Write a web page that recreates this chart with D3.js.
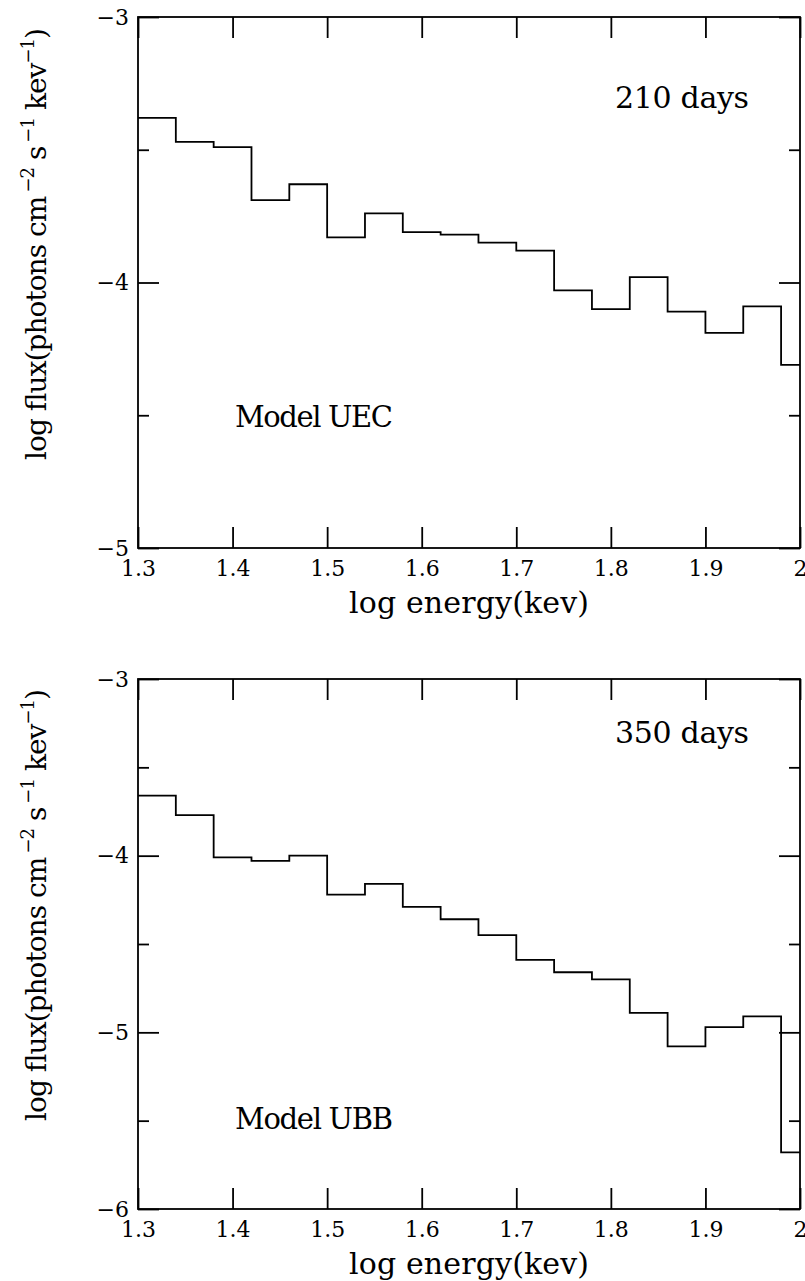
<!DOCTYPE html>
<html>
<head>
<meta charset="utf-8">
<script src="https://cdn.jsdelivr.net/npm/d3@7"></script>
<style>
  body { margin: 0; background: #fff; }
  svg text { font-family: "DejaVu Serif", serif; fill: #000; }
</style>
</head>
<body>
<div id="chart"></div>
<script>
// Histogram spectra, log flux vs log energy, two epochs

// bin edges (log energy, kev)
const binEdges = [1.30, 1.34, 1.38, 1.42, 1.46, 1.50, 1.54, 1.58, 1.62, 1.66,
                  1.70, 1.74, 1.78, 1.82, 1.86, 1.90, 1.94, 1.98, 2.00]

// log flux per bin
const flux210 = [-3.38, -3.47, -3.49, -3.69, -3.63, -3.83, -3.74, -3.81, -3.82,
                 -3.85, -3.88, -4.03, -4.10, -3.98, -4.11, -4.19, -4.09, -4.31]
const flux350 = [-3.66, -3.77, -4.01, -4.03, -4.00, -4.22, -4.16, -4.29, -4.36,
                 -4.45, -4.59, -4.66, -4.70, -4.89, -5.08, -4.97, -4.91, -5.68]

const xTicks = [1.3, 1.4, 1.5, 1.6, 1.7, 1.8, 1.9, 2.0]
const xTickLabels = ['1.3', '1.4', '1.5', '1.6', '1.7', '1.8', '1.9', '2']

const yMajor210 = [-3, -4, -5]
const yMinor210 = [-3.5, -4.5]
const yMajor350 = [-3, -4, -5, -6]
const yMinor350 = [-3.5, -4.5, -5.5]

const xTitle = 'log energy(kev)'

const W = 805, H = 1281
const left = 138, right = 800
const lw = 1.8

const svg = d3.select('#chart').append('svg')
    .attr('width', W)
    .attr('height', H)

const x = d3.scaleLinear().domain([1.3, 2.0]).range([left, right])

const panels = [
    { top: 17, bottom: 548, domain: [-5, -3], flux: flux210,
      major: yMajor210, minor: yMinor210, epoch: '210 days', model: 'Model UEC',
      epochY: 108, modelY: 427 },
    { top: 679, bottom: 1209, domain: [-6, -3], flux: flux350,
      major: yMajor350, minor: yMinor350, epoch: '350 days', model: 'Model UBB',
      epochY: 743, modelY: 1129 }
]

const fmtY = d => '\u2212' + Math.abs(d)

panels.forEach(p => {
    const y = d3.scaleLinear().domain(p.domain).range([p.bottom, p.top])
    const g = svg.append('g')

    // frame
    g.append('rect')
        .attr('x', left).attr('y', p.top)
        .attr('width', right - left).attr('height', p.bottom - p.top)
        .attr('fill', 'none').attr('stroke', '#000').attr('stroke-width', lw)

    // bottom axis with labels, ticks pointing in
    const bx = g.append('g')
        .attr('transform', `translate(0,${p.bottom})`)
        .call(d3.axisBottom(x).tickValues(xTicks).tickSize(-21).tickSizeOuter(0)
            .tickPadding(12).tickFormat((d, i) => xTickLabels[i]))
    bx.selectAll('text').attr('font-size', 22).attr('dy', '0.71em')

    // top axis ticks only
    g.append('g')
        .attr('transform', `translate(0,${p.top})`)
        .call(d3.axisTop(x).tickValues(xTicks).tickSize(-21).tickSizeOuter(0).tickFormat(''))

    // left / right major + minor ticks
    const ly = g.append('g')
        .attr('transform', `translate(${left},0)`)
        .call(d3.axisLeft(y).tickValues(p.major).tickSize(-21).tickSizeOuter(0)
            .tickPadding(9).tickFormat(fmtY))
    ly.selectAll('text').attr('font-size', 22)
    g.append('g')
        .attr('transform', `translate(${left},0)`)
        .call(d3.axisLeft(y).tickValues(p.minor).tickSize(-11).tickSizeOuter(0).tickFormat(''))
    g.append('g')
        .attr('transform', `translate(${right},0)`)
        .call(d3.axisRight(y).tickValues(p.major).tickSize(-21).tickSizeOuter(0).tickFormat(''))
    g.append('g')
        .attr('transform', `translate(${right},0)`)
        .call(d3.axisRight(y).tickValues(p.minor).tickSize(-11).tickSizeOuter(0).tickFormat(''))

    g.selectAll('.domain').remove()
    g.selectAll('.tick line').attr('stroke', '#000').attr('stroke-width', lw)

    // histogram
    const pts = binEdges.map((e, i) => [e, p.flux[Math.min(i, p.flux.length - 1)]])
    g.append('path')
        .datum(pts)
        .attr('fill', 'none')
        .attr('stroke', '#000')
        .attr('stroke-width', lw)
        .attr('d', d3.line().x(d => x(d[0])).y(d => y(d[1])).curve(d3.curveStepAfter))

    // annotations
    g.append('text')
        .attr('x', 615).attr('y', p.epochY)
        .attr('font-size', 30)
        .attr('textLength', 134).attr('lengthAdjust', 'spacing')
        .text(p.epoch)
    g.append('text')
        .attr('x', 235).attr('y', p.modelY)
        .attr('font-size', 29)
        .attr('textLength', 158).attr('lengthAdjust', 'spacing')
        .text(p.model)

    // x title
    g.append('text')
        .attr('x', (left + right) / 2).attr('y', p.bottom + 65)
        .attr('text-anchor', 'middle')
        .attr('font-size', 30)
        .attr('textLength', 240).attr('lengthAdjust', 'spacing')
        .text(xTitle)

    // y title, rotated
    const yt = g.append('text')
        .attr('transform', `translate(46,${p.bottom - 304}) rotate(-90)`)
        .attr('text-anchor', 'middle')
        .attr('font-size', 28)
        .attr('textLength', 432).attr('lengthAdjust', 'spacing')
    yt.append('tspan').text('log flux(photons cm')
    yt.append('tspan').attr('dx', 4).attr('dy', -12).attr('font-size', 18).text('\u22122')
    yt.append('tspan').attr('dy', 12).text('  s')
    yt.append('tspan').attr('dx', 4).attr('dy', -12).attr('font-size', 18).text('\u22121')
    yt.append('tspan').attr('dy', 12).text('  kev')
    yt.append('tspan').attr('dy', -12).attr('font-size', 18).text('\u22121')
    yt.append('tspan').attr('dy', 12).text(')')
})

console.log('chart rendered')
</script>
</body>
</html>
